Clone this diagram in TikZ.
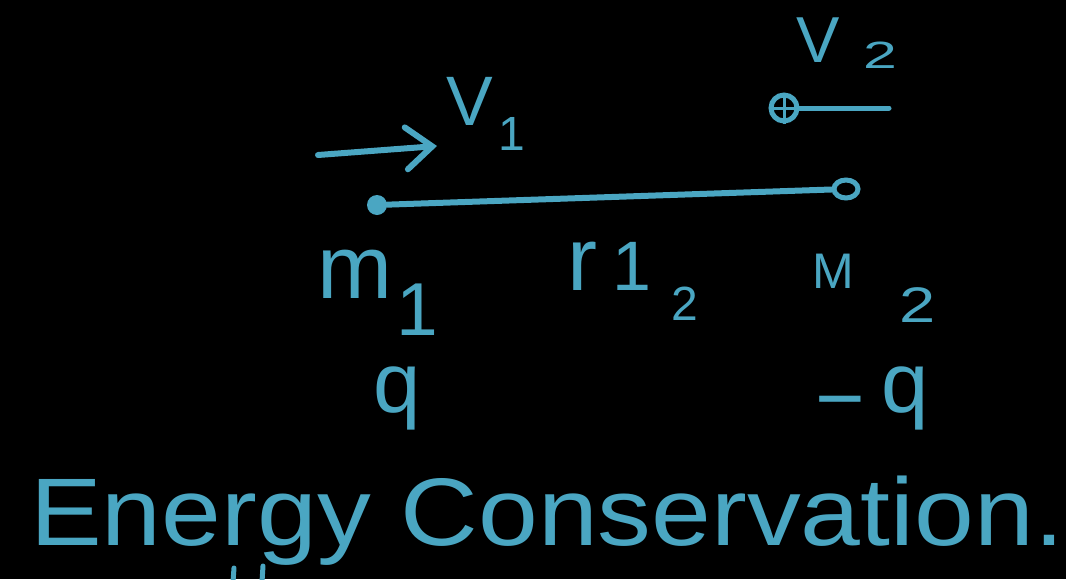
\documentclass[tikz,border=0pt]{standalone}
\usepackage{fontspec}
\setmainfont{Liberation Sans}
\usetikzlibrary{arrows.meta,shapes.geometric}
\definecolor{ink}{RGB}{74,166,194}
\tikzset{
  lbl/.style={text=ink,inner sep=0pt,anchor=base},
  stroke/.style={draw=ink,line width=6pt,line cap=round,line join=round},
}
\newcommand{\fs}[1]{\fontsize{#1}{#1}\selectfont}
\begin{document}
\begin{tikzpicture}[x=1pt,y=-1pt]
\fill[black] (0,0) rectangle (1066,579);
\useasboundingbox (0,0) rectangle (1066,579);
% velocity arrow of m1
\coordinate (a1s) at (318,155);
\coordinate (a1e) at (437,146);
\draw[stroke,-{Straight Barb[length=26pt,width=42pt,line cap=round]}] (a1s) -- (a1e);
\node[lbl,font=\fs{70}] (v1) at (470,125) {V};
\node[lbl,font=\fs{48}] (v1s) at (512,150) {1};
% particle 2 velocity
\node[circle,draw=ink,line width=5pt,minimum size=26pt,inner sep=0pt] (b2) at (784,108) {};
\coordinate (t2) at (889,108);
\draw[stroke,line width=5pt] (b2.east) -- (t2);
\draw[draw=ink,line width=3pt] (b2.north) -- (b2.south) (b2.west) -- (b2.east);
\node[lbl,font=\fs{65}] (v2) at (818,62) {V};
\node[lbl,font=\fs{38},xscale=1.6] (v2s) at (880,68) {2};
% masses and rod
\node[circle,fill=ink,minimum size=20pt,inner sep=0pt] (m1) at (377,205) {};
\node[ellipse,draw=ink,line width=5pt,minimum width=24pt,minimum height=18pt,inner sep=0pt] (m2) at (846,189) {};
\draw[stroke] (m1) -- (m2);
% labels
\node[lbl,font=\fs{90}] (lm1) at (355,298) {m};
\node[lbl,font=\fs{75}] (lm1s) at (417,335) {1};
\node[lbl,font=\fs{90}] (lr) at (582,290) {r};
\node[lbl,font=\fs{70}] (lr1) at (632,290) {1};
\node[lbl,font=\fs{48}] (lr2) at (685,320) {2};
\node[lbl,font=\fs{50}] (lM2) at (833,288) {M};
\node[lbl,font=\fs{50},xscale=1.3] (lM2s) at (918,322) {2};
\node[lbl,font=\fs{85}] (q1) at (397,412) {q};
\node[lbl,font=\fs{85}] (mq) at (840,427) {−};
\node[lbl,font=\fs{85}] (q2) at (905,412) {q};
% title
\node[lbl,font=\fs{96},anchor=base west,xscale=1.12] (title) at (30,545) {Energy Conservation.};
% cut-off strokes at the bottom edge
\coordinate (c1a) at (234,568); \coordinate (c1b) at (233,582);
\coordinate (c2a) at (263,566); \coordinate (c2b) at (262,582);
\draw[stroke,line width=5pt] (c1a) -- (c1b);
\draw[stroke,line width=5pt] (c2a) -- (c2b);
\end{tikzpicture}
\end{document}
